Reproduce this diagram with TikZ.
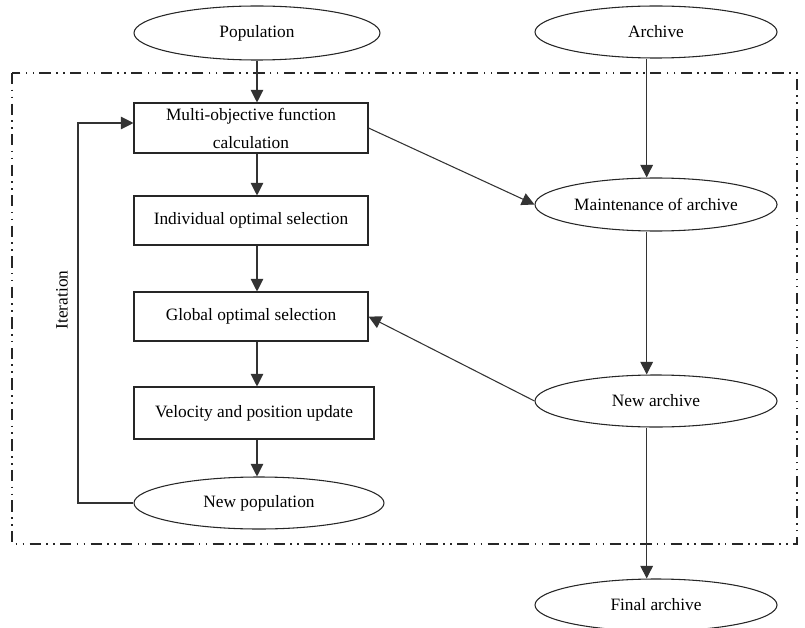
\documentclass[tikz,border=0pt]{standalone}
\usepackage{fontspec}
\setmainfont{Liberation Serif}
\usetikzlibrary{shapes.geometric}
\usetikzlibrary{arrows.meta}

\tikzset{
	box/.style={draw=black!85, line width=0.8pt, rectangle, inner sep=0pt, align=center, font=\fontsize{13}{16}\selectfont},
	oval/.style={draw=black!85, line width=0.8pt, ellipse, inner sep=0pt, font=\fontsize{13}{16}\selectfont},
	arr/.style={draw=black!80, line width=0.8pt, -{Triangle[length=9.5pt,width=9.5pt]}},
	frame/.style={draw=black!85, line width=1.8pt, dash pattern=on 8.5pt off 4pt on 1.2pt off 4pt on 1.2pt off 4pt}
}

\begin{document}
\begin{tikzpicture}[x=0.75pt,y=-0.75pt]
	\useasboundingbox (0,0) rectangle (805,627);
	\draw [frame] (12,73) rectangle (797,544);
	\node [oval, minimum width=184.5pt, minimum height=40.5pt] (pop) at (257,33) {Population};
	\node [oval, minimum width=181.5pt, minimum height=39pt] (arch) at (656,32) {Archive};
	\node [box, minimum width=175.5pt, minimum height=37.5pt] (multi) at (251,128) {Multi-objective function\\[5pt]calculation};
	\node [box, minimum width=175.5pt, minimum height=36.75pt] (indiv) at (251,220.5) {Individual optimal selection};
	\node [box, minimum width=175.5pt, minimum height=36.75pt] (global) at (251,316.5) {Global optimal selection};
	\node [box, minimum width=180pt, minimum height=39pt] (velo) at (254,413) {Velocity and position update};
	\node [oval, minimum width=187.5pt, minimum height=39pt] (newpop) at (259,503) {New population};
	\node [oval, minimum width=181.5pt, minimum height=39.75pt] (maint) at (656,204.5) {Maintenance of archive};
	\node [oval, minimum width=181.5pt, minimum height=39pt] (newarch) at (656,401) {New archive};
	\node [oval, minimum width=181.5pt, minimum height=39pt] (final) at (656,605) {Final archive};
	\node [rotate=90, font=\fontsize{13}{16}\selectfont] (iter) at (62,300) {Iteration};
	\coordinate (loop) at (78,503);
	\draw [arr] (pop.south) -- (pop.south |- multi.north);
	\draw [arr] (multi.south -| pop) -- (indiv.north -| pop);
	\draw [arr] (indiv.south -| pop) -- (global.north -| pop);
	\draw [arr] (global.south -| pop) -- (velo.north -| pop);
	\draw [arr] (velo.south -| pop) -- (newpop.north -| pop);
	\draw [arr] (newpop.west) -- (loop) |- ([yshift=3.75pt]multi.west);
	\draw [arr] ([xshift=-7pt]arch.south) -- ([xshift=-7pt]maint.north);
	\draw [arr] (multi.east) -- (maint.west);
	\draw [arr] ([xshift=-7pt]maint.south) -- ([xshift=-7pt]newarch.north);
	\draw [arr] (newarch.west) -- (global.east);
	\draw [arr] ([xshift=-7pt]newarch.south) -- ([xshift=-7pt]final.north);
\end{tikzpicture}
\end{document}
